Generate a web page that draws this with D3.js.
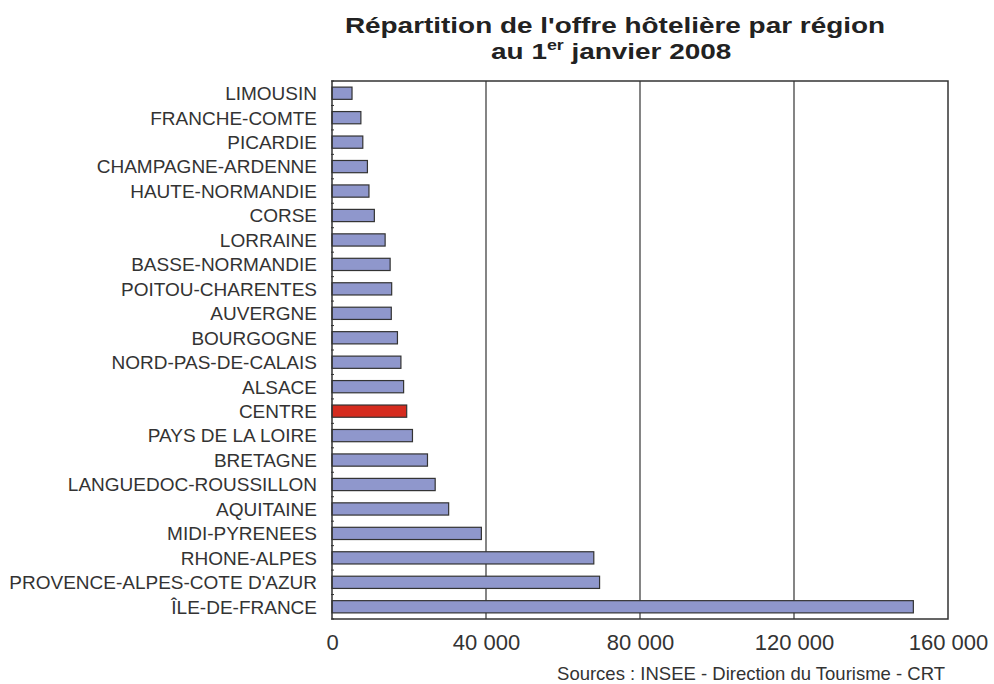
<!DOCTYPE html>
<html>
<head>
<meta charset="utf-8">
<script src="https://cdn.jsdelivr.net/npm/d3@7"></script>
<style>
  body { margin: 0; background: #fff; }
  text { font-family: "Liberation Sans", Arial, sans-serif; }
</style>
</head>
<body>
<div id="chart"></div>
<script>
// regions, top to bottom
var regions = ["LIMOUSIN", "FRANCHE-COMTE", "PICARDIE", "CHAMPAGNE-ARDENNE", "HAUTE-NORMANDIE",
  "CORSE", "LORRAINE", "BASSE-NORMANDIE", "POITOU-CHARENTES", "AUVERGNE", "BOURGOGNE",
  "NORD-PAS-DE-CALAIS", "ALSACE", "CENTRE", "PAYS DE LA LOIRE", "BRETAGNE",
  "LANGUEDOC-ROUSSILLON", "AQUITAINE", "MIDI-PYRENEES", "RHONE-ALPES",
  "PROVENCE-ALPES-COTE D'AZUR", "ÎLE-DE-FRANCE"];
// hotel rooms
var rooms = [5200, 7500, 8000, 9200, 9600, 11000, 13800, 15100, 15500, 15400, 17000,
  17900, 18600, 19400, 20900, 24800, 26800, 30300, 38800, 68000, 69500, 151000];
var highlight = "CENTRE";
var xTicks = [0, 40000, 80000, 120000, 160000];

var width = 994, height = 684;
var margin = {top: 81, right: 46, bottom: 65, left: 332};

var svg = d3.select("#chart").append("svg")
  .attr("width", width)
  .attr("height", height);

var x = d3.scaleLinear().domain([0, 160000]).range([margin.left, width - margin.right]);
var y = d3.scaleBand().domain(regions).range([margin.top, height - margin.bottom]).paddingInner(0.5).paddingOuter(0.25);
var fmt = function(d) { return d3.format(",")(d).replace(/,/g, " "); };

// title (the original is stretched horizontally)
var tg = svg.append("g").attr("transform", "translate(615,0) scale(1.27,1)");
tg.append("text")
  .attr("x", 0).attr("y", 33)
  .attr("text-anchor", "middle")
  .style("font-size", "22px").style("font-weight", "bold").attr("fill", "#222")
  .text("Répartition de l'offre hôtelière par région");
var t2 = tg.append("text")
  .attr("x", -3).attr("y", 59)
  .attr("text-anchor", "middle")
  .style("font-size", "22px").style("font-weight", "bold").attr("fill", "#222");
t2.append("tspan").text("au 1");
t2.append("tspan").attr("dy", -9).style("font-size", "14px").text("er");
t2.append("tspan").attr("dy", 9).text(" janvier 2008");

// gridlines
svg.append("g").selectAll("line")
  .data(xTicks.slice(1, -1))
  .enter().append("line")
  .attr("x1", function(d) { return x(d); })
  .attr("x2", function(d) { return x(d); })
  .attr("y1", margin.top).attr("y2", height - margin.bottom)
  .attr("stroke", "#333").attr("stroke-width", 1.2);

// bars
svg.append("g").selectAll("rect")
  .data(regions)
  .enter().append("rect")
  .attr("x", x(0))
  .attr("y", function(d) { return y(d); })
  .attr("width", function(d, i) { return x(rooms[i]) - x(0); })
  .attr("height", y.bandwidth())
  .attr("fill", function(d) { return d === highlight ? "#d52b1e" : "#8f97cc"; })
  .attr("stroke", "#333")
  .attr("stroke-width", 1.2);

// frame
svg.append("rect")
  .attr("x", margin.left).attr("y", margin.top)
  .attr("width", width - margin.right - margin.left)
  .attr("height", height - margin.bottom - margin.top)
  .attr("fill", "none").attr("stroke", "#333").attr("stroke-width", 1.5);

// small category ticks on the left axis
var step = y.step();
svg.append("g").selectAll("line")
  .data(d3.range(regions.length + 1))
  .enter().append("line")
  .attr("x1", margin.left - 1).attr("x2", margin.left + 2)
  .attr("y1", function(i) { return margin.top + i * step; })
  .attr("y2", function(i) { return margin.top + i * step; })
  .attr("stroke", "#333");

// y labels
svg.append("g").selectAll("text")
  .data(regions)
  .enter().append("text")
  .attr("x", margin.left - 15)
  .attr("y", function(d) { return y(d) + y.bandwidth() / 2; })
  .attr("dy", "0.36em")
  .attr("text-anchor", "end")
  .style("font-size", "19px")
  .attr("fill", "#333")
  .text(function(d) { return d; });

// x axis labels
var xAxis = d3.axisBottom(x).tickValues(xTicks).tickFormat(fmt).tickSize(0).tickPadding(15);
var gx = svg.append("g")
  .attr("transform", "translate(0," + (height - margin.bottom) + ")")
  .call(xAxis);
gx.select(".domain").remove();
gx.selectAll("text").style("font-size", "22px").attr("fill", "#333").style("font-family", "\"Liberation Sans\", Arial, sans-serif");

// source
svg.append("text")
  .attr("x", 945).attr("y", 680)
  .attr("text-anchor", "end")
  .style("font-size", "18.5px").attr("fill", "#333")
  .text("Sources : INSEE - Direction du Tourisme - CRT");
</script>
</body>
</html>
